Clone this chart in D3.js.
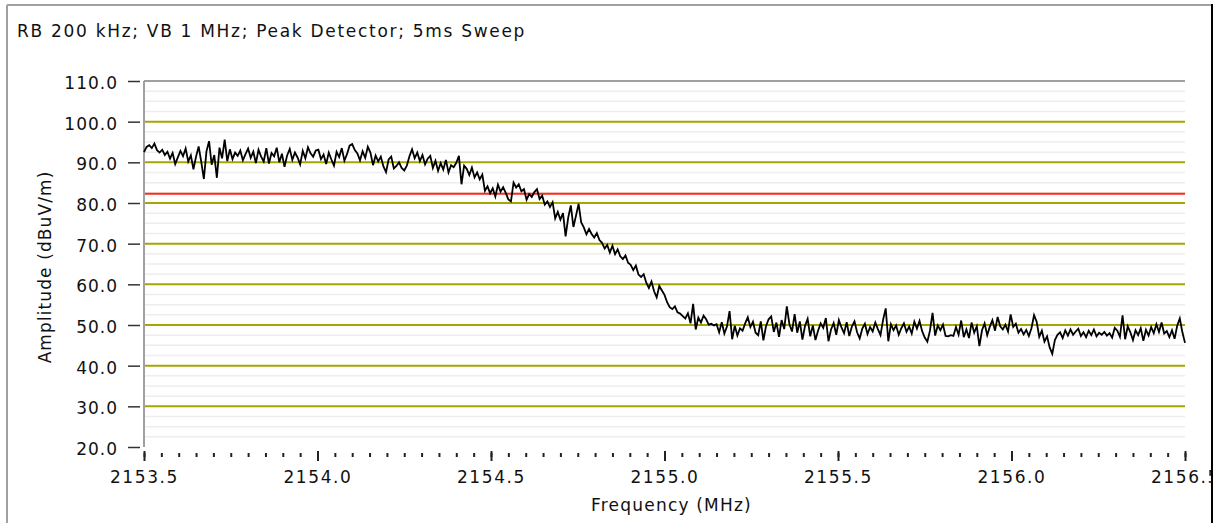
<!doctype html>
<html lang="en">
<head>
    <meta charset="utf-8">
    <title>Spectrum sweep</title>
    <style>
        body { margin: 0; background: #fff; }
        text { font-family: "DejaVu Sans", Verdana, sans-serif; fill: #111; }
    </style>
</head>
<body>
    <div id="chart"></div>

    <script src="https://cdnjs.cloudflare.com/ajax/libs/d3/7.8.5/d3.min.js"></script>
    <script>
        const title = "RB 200 kHz; VB 1 MHz; Peak Detector; 5ms Sweep";
        const xLabel = "Frequency (MHz)";
        const yLabel = "Amplitude (dBuV/m)";

        const freqDomain = [2153.5, 2156.5];
        const ampDomain = [20, 110];
        const yTicks = [20, 30, 40, 50, 60, 70, 80, 90, 100, 110];
        const xTicks = [2153.5, 2154.0, 2154.5, 2155.0, 2155.5, 2156.0, 2156.5];
        const olivelines = [30, 40, 50, 60, 70, 80, 90, 100];
        const limitLine = 82.3;   // red limit

        // sweep: 401 points, equally spaced across the span
        const sweepStart = 2153.5;
        const sweepStep = 0.0075;
        const amplitude = [
            92.5, 93.8, 94.2, 93.5, 94.6, 93.0, 92.4, 93.1, 91.8, 92.6,
            90.9, 92.3, 89.6, 91.2, 92.8, 91.5, 93.4, 90.2, 91.7, 88.3,
            91.4, 93.9, 90.1, 85.9, 92.7, 95.2, 89.4, 91.8, 86.2, 93.6,
            91.0, 95.6, 90.3, 93.2, 90.8, 92.4, 91.6, 92.9, 90.5, 92.0,
            93.4, 91.1, 92.6, 89.8, 93.1, 91.4, 90.2, 93.5, 89.7, 92.3,
            91.5, 93.6, 90.0, 92.1, 88.9, 91.7, 93.3, 90.6, 92.4, 91.2,
            89.5, 92.8, 91.0, 93.7, 92.2, 91.4, 92.9, 93.1, 90.8, 91.9,
            89.6, 92.4, 90.7, 89.2, 92.6, 91.3, 93.5, 90.4, 92.0, 94.1,
            94.5, 93.0, 92.2, 90.5, 92.7, 91.1, 93.8, 92.4, 89.3, 91.7,
            90.2, 91.4, 89.0, 87.6, 90.7, 91.4, 88.5, 89.1, 90.0, 88.6,
            88.0,
            89.2, 91.5, 93.2, 91.0, 92.4, 90.3, 91.8, 89.5, 90.9, 91.6,
            88.6, 90.4, 87.9, 89.8, 88.2, 90.6, 87.5, 89.3, 88.8, 89.9,
            91.6, 84.6, 89.2, 88.4, 86.9, 88.7, 86.3, 87.5, 85.8, 87.0,
            83.0, 84.1, 82.4, 83.6, 81.6, 84.5, 82.8, 83.9, 82.5, 80.9,
            80.4, 85.0, 83.8, 84.6, 82.9, 83.4, 80.8, 82.2, 81.5, 82.7,
            83.4, 81.0, 81.8, 79.6, 80.4, 79.0, 80.2, 76.2, 77.8, 75.9,
            77.5, 71.8, 76.4, 79.4, 74.1, 76.9, 79.8, 75.2, 74.0, 72.3,
            73.6, 72.4, 71.5, 72.6, 70.9, 70.2, 68.8, 69.7, 67.8, 69.5,
            67.4, 68.6, 66.9, 66.2, 67.1, 65.3, 64.8, 63.5, 64.6, 62.4,
            61.8, 62.5, 60.4, 59.1, 60.7, 58.3, 56.8, 59.6, 58.5, 57.4,
            55.6, 54.4, 53.9, 54.6, 53.1, 52.8, 52.2, 51.6, 52.9, 50.4,
            55.2, 48.9, 51.8, 50.6, 52.3, 51.4, 50.1, 50.3, 49.9, 50.2,
            48.2, 50.7, 47.9, 49.6, 53.4, 46.5, 49.8, 47.4, 49.2, 48.6,
            50.4, 51.9, 49.5, 50.8, 48.1, 47.5, 50.9, 46.2, 49.7, 51.4,
            52.1, 48.3, 50.6, 47.1, 51.2, 49.0, 54.6, 50.2, 48.4, 52.7,
            48.1, 50.9, 46.4, 49.8, 51.5, 47.2, 49.9, 46.3, 48.6, 50.4,
            49.3, 51.7, 46.0, 48.9, 50.5, 47.6, 51.2, 49.4, 48.0, 50.7,
            47.3, 49.6, 50.9, 48.2, 46.7, 49.1, 50.3, 47.8, 49.5, 48.4,
            50.6, 49.0, 47.5, 51.3, 54.1, 46.0, 50.2, 48.7, 49.9, 47.6,
            49.2, 50.4, 48.3, 49.6, 47.9, 50.8, 49.1, 51.0, 48.5, 46.9,
            45.9, 48.6, 53.0, 47.4, 49.9, 48.7, 50.1, 47.3, 47.2, 47.5,
            47.3, 49.5, 47.6, 51.1, 47.0, 48.9, 46.8, 50.6, 48.1, 49.7,
            44.8, 48.7, 50.4, 47.5, 49.6, 51.2, 48.6, 52.0, 49.7, 48.9,
            50.1, 48.4, 52.6, 49.5, 50.3, 48.1, 49.0, 47.7, 48.8, 47.3,
            49.2, 52.4, 50.8, 47.1, 48.6, 45.9, 47.2, 44.5, 42.9, 46.3,
            47.6, 48.2, 46.8, 48.7, 47.4, 48.9, 47.6, 48.4, 49.1, 47.3,
            48.2, 47.0, 48.6, 47.5, 48.9, 47.2, 48.1, 47.6, 48.3, 47.4,
            48.0, 46.9, 49.3, 48.6, 47.1, 52.4, 46.5, 49.7, 48.2, 46.3,
            48.7, 47.5, 49.2, 46.1, 48.8, 47.4, 49.5, 48.0, 50.2, 48.3,
            50.6, 47.9, 48.5, 47.0, 48.7, 46.6, 49.8, 51.6, 48.2, 45.6
        ];

        const width = 1225;
        const height = 523;
        const plot = { left: 144, right: 1185, top: 81, bottom: 447 };

        const svg = d3.select("#chart").append("svg")
            .attr("width", width).attr("height", height);

        svg.append("clipPath").attr("id", "frame")
            .append("rect").attr("x", 0).attr("y", 0).attr("width", 1211).attr("height", height);

        const g = svg.append("g").attr("clip-path", "url(#frame)");

        const x = d3.scaleLinear().domain(freqDomain).range([plot.left, plot.right]);
        const y = d3.scaleLinear().domain(ampDomain).range([plot.bottom, plot.top]);

        // minor grid every 2.5 dB
        const minor = d3.range(ampDomain[0], ampDomain[1] + 0.01, 2.5).filter(v => v % 10 !== 0);
        g.append("g").selectAll("line").data(minor).join("line")
            .attr("x1", plot.left).attr("x2", plot.right)
            .attr("y1", d => y(d)).attr("y2", d => y(d))
            .attr("stroke", "#eeeeee").attr("stroke-width", 1.5);

        g.append("g").selectAll("line").data(olivelines).join("line")
            .attr("x1", plot.left).attr("x2", plot.right)
            .attr("y1", d => y(d)).attr("y2", d => y(d))
            .attr("stroke", "#a6a600").attr("stroke-width", 2);

        g.append("line")
            .attr("x1", plot.left).attr("x2", plot.right)
            .attr("y1", y(limitLine)).attr("y2", y(limitLine))
            .attr("stroke", "#ff2a1a").attr("stroke-width", 2);

        // top + left plot edges
        g.append("line").attr("x1", plot.left).attr("x2", plot.right)
            .attr("y1", plot.top).attr("y2", plot.top)
            .attr("stroke", "#a0a0a0").attr("stroke-width", 2);
        g.append("line").attr("x1", plot.left).attr("x2", plot.left)
            .attr("y1", plot.top).attr("y2", plot.bottom)
            .attr("stroke", "#a0a0a0").attr("stroke-width", 2);

        const sweep = amplitude.map((a, i) => ({ f: sweepStart + i * sweepStep, a: a }));
        const line = d3.line().x(d => x(d.f)).y(d => y(d.a));
        g.append("path").datum(sweep)
            .attr("d", line)
            .attr("fill", "none")
            .attr("stroke", "#000")
            .attr("stroke-width", 1.8)
            .attr("stroke-linejoin", "miter");

        // y axis
        const yAxis = g.append("g").attr("transform", `translate(${plot.left - 4},0)`)
            .call(d3.axisLeft(y).tickValues(yTicks).tickSize(12).tickPadding(10).tickFormat(d3.format(".1f")));
        yAxis.select(".domain").remove();
        yAxis.selectAll("line").attr("stroke", "#333").attr("stroke-width", 1.5);
        yAxis.selectAll("text").attr("font-size", 17).attr("font-family", null)
            .attr("letter-spacing", 1).attr("dy", "0.45em");

        // x axis: minor ticks, then major ticks with labels
        const xMinor = g.append("g").attr("transform", `translate(0,${plot.bottom + 6})`)
            .call(d3.axisBottom(x).ticks(60).tickSize(4).tickFormat(""));
        xMinor.select(".domain").remove();
        xMinor.selectAll("line").attr("stroke", "#222").attr("stroke-width", 2);

        const xAxis = g.append("g").attr("transform", `translate(0,${plot.bottom + 4})`)
            .call(d3.axisBottom(x).tickValues(xTicks).tickSize(10).tickFormat(d3.format(".1f")));
        xAxis.select(".domain").remove();
        xAxis.selectAll("line").attr("stroke", "#222").attr("stroke-width", 2);
        xAxis.selectAll("text").attr("font-size", 17).attr("font-family", null)
            .attr("letter-spacing", 1.6).attr("dy", null).attr("y", 32);

        g.append("text").attr("x", 17).attr("y", 37)
            .attr("font-size", 17).attr("letter-spacing", 1.7).text(title);

        g.append("text").attr("x", (plot.left + plot.right) / 2 + 7).attr("y", 511)
            .attr("text-anchor", "middle").attr("font-size", 17).attr("letter-spacing", 1.2).text(xLabel);

        g.append("text").attr("transform", `translate(51,${(plot.top + plot.bottom) / 2 + 3}) rotate(-90)`)
            .attr("text-anchor", "middle").attr("font-size", 17).attr("letter-spacing", 1.1).text(yLabel);

        // panel frame
        svg.append("line").attr("x1", 7).attr("x2", 1212).attr("y1", 5).attr("y2", 5)
            .attr("stroke", "#a0a0a0").attr("stroke-width", 2);
        svg.append("line").attr("x1", 7).attr("x2", 7).attr("y1", 5).attr("y2", height)
            .attr("stroke", "#a0a0a0").attr("stroke-width", 2);
        svg.append("line").attr("x1", 1212).attr("x2", 1212).attr("y1", 4).attr("y2", height)
            .attr("stroke", "#000").attr("stroke-width", 2);
    </script>
</body>
</html>
